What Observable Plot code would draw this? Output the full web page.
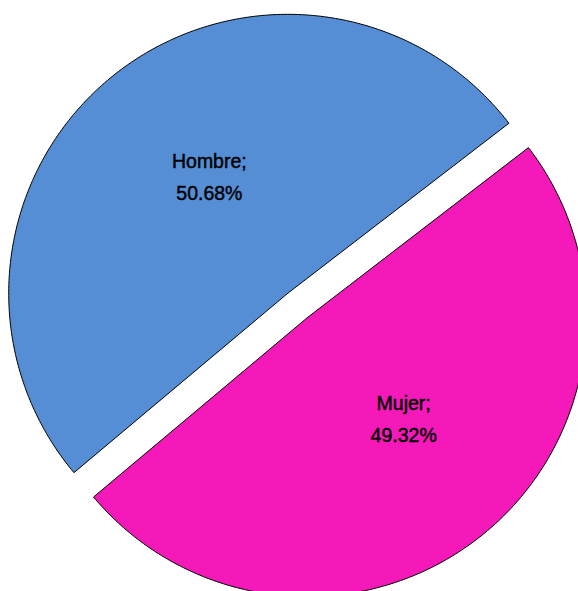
<!DOCTYPE html>
<html>
<head>
<meta charset="utf-8">
<script src="https://cdn.jsdelivr.net/npm/d3@7"></script>
<script src="https://cdn.jsdelivr.net/npm/@observablehq/plot@0.6"></script>
<style>
  html, body { margin: 0; padding: 0; background: #fff; }
  #chart svg { display: block; }
</style>
</head>
<body>
<div id="chart"></div>
<script>
const categories = ["Hombre", "Mujer"];
const values = [50.68, 49.32];
const labels = ["50.68%", "49.32%"];
const colors = ["#568ed6", "#f519b9"];

const startDeg = 230.0;
const explode = 0.056;
const labelR = 0.5;

const pie = d3.pie().sort(null).value(d => d.value)
  .startAngle(startDeg * Math.PI / 180)
  .endAngle(startDeg * Math.PI / 180 + 2 * Math.PI);
const data = categories.map((c, i) => ({name: c, value: values[i], label: labels[i]}));
const arcs = pie(data);

const points = [];
const texts = [];
arcs.forEach(a => {
  const mid = (a.startAngle + a.endAngle) / 2;
  const cx = explode * Math.sin(mid), cy = explode * Math.cos(mid);
  points.push({name: a.data.name, x: cx, y: cy});
  const n = 240;
  for (let k = 0; k <= n; k++) {
    const t = a.startAngle + (a.endAngle - a.startAngle) * k / n;
    points.push({name: a.data.name, x: cx + Math.sin(t), y: cy + Math.cos(t)});
  }
  points.push({name: a.data.name, x: cx, y: cy});
  texts.push({name: a.data.name, x: cx + labelR * Math.sin(mid), y: cy + labelR * Math.cos(mid),
              text: a.data.name + ";\n" + a.data.label});
});

const chart = Plot.plot({
  width: 578,
  height: 591,
  margin: 0,
  x: {domain: [-1.0645, 1.0072], axis: null},
  y: {domain: [-1.0251, 1.0932], axis: null},
  color: {domain: categories, range: colors},
  marks: [
    Plot.line(points, {x: "x", y: "y", z: "name", fill: "name", stroke: "black", strokeWidth: 1, clip: true}),
    Plot.text(texts, {x: "x", y: "y", text: "text", fill: "black", stroke: "black", strokeWidth: 0.45,
                      dx: 9, dy: -11, fontSize: 19.5, lineHeight: 1.64,
                      fontFamily: "Liberation Sans, Arial, sans-serif"})
  ]
});
document.getElementById("chart").appendChild(chart);
</script>
</body>
</html>
